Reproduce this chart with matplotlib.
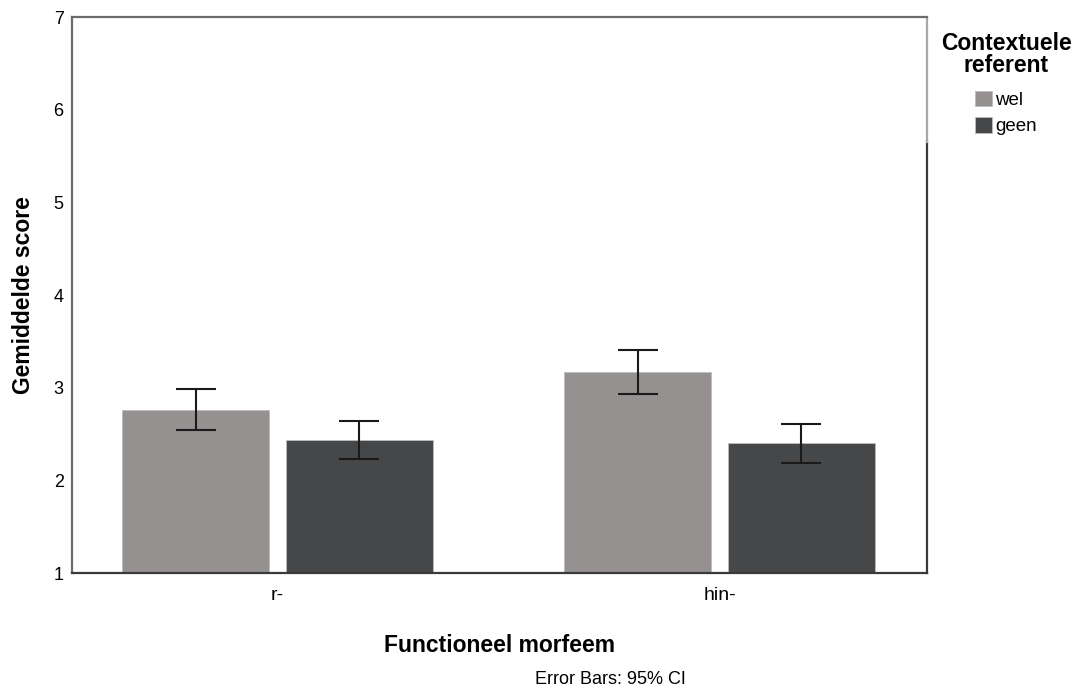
import matplotlib
matplotlib.use("Agg")
from matplotlib import pyplot as plt
import numpy as np

plt.rcParams['font.family'] = ['Liberation Sans', 'DejaVu Sans']

categories = ['r-', 'hin-']
groups = ['wel', 'geen']
means_wel = [2.76, 3.17]
means_geen = [2.43, 2.40]
ci_low_wel = [2.54, 2.93]
ci_high_wel = [2.99, 3.41]
ci_low_geen = [2.23, 2.19]
ci_high_geen = [2.64, 2.61]
colors = ['#959190', '#464749']

fig = plt.figure(figsize=(10.74, 6.97), dpi=100)
ax = fig.add_axes([72/1074, 1-573/697, (927-72)/1074, (573-17)/697])

x = np.arange(len(categories))
w = 0.333
off = 0.185
series = [(means_wel, ci_low_wel, ci_high_wel), (means_geen, ci_low_geen, ci_high_geen)]
for i, (m, lo, hi) in enumerate(series):
    m = np.array(m)
    xs = x + (-off if i == 0 else off)
    ax.bar(xs, m - 1, bottom=1, width=w, color=colors[i], edgecolor='#bdbdbd',
           linewidth=0.6, label=groups[i], zorder=2)
    yerr = [m - np.array(lo), np.array(hi) - m]
    ax.errorbar(xs, m, yerr=yerr, fmt='none', ecolor='#1a1a1a', elinewidth=1.5,
                capsize=14.5, capthick=1.5, zorder=3)

ax.set_xlim(-0.465, 1.469)
ax.set_ylim(1, 7)
ax.set_yticks(range(1, 8))
ax.set_xticks(x)
ax.set_xticklabels(categories, fontsize=14)
ax.tick_params(axis='y', length=0, pad=6, labelsize=13)
ax.tick_params(axis='x', length=0, pad=10)

for s in ['left', 'top']:
    ax.spines[s].set_color('#6b6b6b')
    ax.spines[s].set_linewidth(1.6)
ax.spines['bottom'].set_color('#3a3a3a')
ax.spines['bottom'].set_linewidth(1.6)
ax.spines['right'].set_visible(False)
ax.axvline(1.469, ymin=0, ymax=(573-142)/556, color='#3a3a3a', lw=1.6, clip_on=False)
ax.axvline(1.469, ymin=(573-142)/556, ymax=1, color='#a8a8a8', lw=1.6, clip_on=False)

ax.set_ylabel('Gemiddelde score', fontsize=16.5, fontweight='bold')
ax.yaxis.label.set_verticalalignment('center')
ax.yaxis.set_label_coords(-(72-23.5)/855, 0.5)
ax.set_xlabel('Functioneel morfeem', fontsize=16.5, fontweight='bold')
ax.xaxis.label.set_verticalalignment('center')
ax.xaxis.set_label_coords(0.5, -(646-573)/556)

fig.text(610/1074, 1-680/697, 'Error Bars: 95% CI', fontsize=13, ha='center', va='center')

leg = ax.legend(title='Contextuele\nreferent', loc='upper center',
                bbox_to_anchor=(1006/1074, 1-23/697), bbox_transform=fig.transFigure,
                frameon=False, fontsize=13.5, title_fontproperties={'weight': 'bold', 'size': 16.5},
                handlelength=0.9, handleheight=0.9, handletextpad=0.16, labelspacing=0.42,
                borderpad=0)
leg._legend_box.align = 'center'
leg._legend_box.sep += 4
leg.get_title().set_multialignment('center')
leg.get_title().set_linespacing(0.95)

fig.savefig('out.png', dpi=100)
